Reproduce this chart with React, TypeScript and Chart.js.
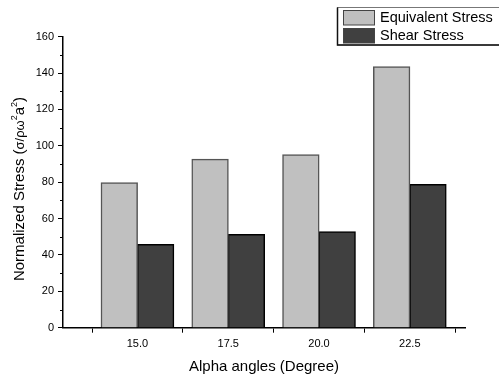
import React, { useEffect, useRef } from "react";
import { Chart, registerables } from "chart.js";

Chart.register(...registerables);

const angles = [15.0, 17.5, 20.0, 22.5];
const equivalentStress = [79.7, 92.6, 95.1, 143.5];
const shearStress = [45.8, 51.3, 52.8, 78.8];
const yTicks = [0, 20, 40, 60, 80, 100, 120, 140, 160];
const yMinorTicks = [10, 30, 50, 70, 90, 110, 130, 150];
const seriesLabels = ["Equivalent Stress", "Shear Stress"];
const xTitle = "Alpha angles (Degree)";
// y title as text runs: [text, font size, superscript]
const yTitleRuns: [string, number, boolean][] = [
  ["Normalized Stress (", 15, false],
  ["σ/ρω", 13, false],
  ["2", 9, true],
  ["a", 15, false],
  ["2", 9, true],
  [")", 15, false],
];

const FONT = "'Liberation Sans', Arial, sans-serif";

const minorTicksPlugin = {
  id: "minorTicks",
  afterDraw(chart: any) {
    const ctx = chart.ctx;
    const y = chart.scales.y;
    const left = chart.chartArea.left;
    ctx.save();
    ctx.strokeStyle = "#000";
    ctx.lineWidth = 1;
    yMinorTicks.forEach((v) => {
      const py = Math.round(y.getPixelForValue(v)) + 0.5;
      ctx.beginPath();
      ctx.moveTo(left - 3, py);
      ctx.lineTo(left, py);
      ctx.stroke();
    });
    ctx.restore();
  },
};

const yTitlePlugin = {
  id: "yTitle",
  afterDraw(chart: any) {
    const ctx = chart.ctx;
    ctx.save();
    ctx.translate(18.5, 189);
    ctx.rotate(-Math.PI / 2);
    ctx.fillStyle = "#000";
    ctx.textBaseline = "alphabetic";
    ctx.textAlign = "left";
    let total = 0;
    const widths = yTitleRuns.map(([t, s]) => {
      ctx.font = `${s}px ${FONT}`;
      const w = ctx.measureText(t).width;
      total += w;
      return w;
    });
    let x = -total / 2;
    const base = 5.3;
    yTitleRuns.forEach(([t, s, sup], i) => {
      ctx.font = `${s}px ${FONT}`;
      ctx.fillText(t, x, sup ? base - 6.5 : base);
      x += widths[i];
    });
    ctx.restore();
  },
};

const boxLegendPlugin = {
  id: "boxLegend",
  afterDraw(chart: any) {
    const ctx = chart.ctx;
    const x0 = 337.5;
    const y0 = 7.5;
    const x1 = 505;
    const y1 = 45;
    ctx.save();
    ctx.fillStyle = "#fff";
    ctx.fillRect(x0, y0, x1 - x0, y1 - y0);
    ctx.strokeStyle = "#777";
    ctx.lineWidth = 1;
    ctx.strokeRect(x0, y0, x1 - x0, y1 - y0);
    ctx.strokeStyle = "#111";
    ctx.lineWidth = 1.5;
    ctx.beginPath();
    ctx.moveTo(x0, y0);
    ctx.lineTo(x0, y1);
    ctx.lineTo(x1, y1);
    ctx.stroke();
    const rows = [17.5, 35.5];
    chart.data.datasets.forEach((ds: any, i: number) => {
      const cy = rows[i];
      ctx.fillStyle = ds.backgroundColor;
      ctx.fillRect(343, cy - 7.5, 32, 15);
      ctx.strokeStyle = "#444";
      ctx.lineWidth = 1;
      ctx.strokeRect(343.5, cy - 7, 31, 14.5);
      ctx.fillStyle = "#000";
      ctx.font = `14.5px ${FONT}`;
      ctx.textBaseline = "middle";
      ctx.textAlign = "left";
      ctx.fillText(ds.label, 380, cy + 0.5);
    });
    ctx.restore();
  },
};

export default function App() {
  const ref = useRef<HTMLCanvasElement>(null);

  useEffect(() => {
    if (!ref.current) return;
    const chart = new Chart(ref.current, {
      type: "bar",
      data: {
        datasets: [
          {
            label: seriesLabels[0],
            data: angles.map((a, i) => ({ x: a, y: equivalentStress[i] })),
            backgroundColor: "#c0c0c0",
            borderColor: "#555",
            borderWidth: 1.5,
            categoryPercentage: 0.8,
            barPercentage: 1.0,
            inflateAmount: 0.5,
          },
          {
            label: seriesLabels[1],
            data: angles.map((a, i) => ({ x: a, y: shearStress[i] })),
            backgroundColor: "#404040",
            borderColor: "#000",
            borderWidth: 1.5,
            categoryPercentage: 0.8,
            barPercentage: 1.0,
            inflateAmount: 0.5,
          },
        ],
      } as any,
      options: {
        animation: false,
        responsive: false,
        maintainAspectRatio: false,
        layout: { padding: { top: 36.7, right: 34, left: 0, bottom: 0 } },
        plugins: { legend: { display: false }, tooltip: { enabled: false } },
        scales: {
          x: {
            type: "linear",
            min: 12.95,
            max: 24.02,
            offset: false,
            afterBuildTicks: (s: any) => {
              s.ticks = angles.map((v) => ({ value: v }));
            },
            afterFit: (s: any) => {
              s.height = 49.3;
            },
            ticks: {
              callback: (v: any) => Number(v).toFixed(1),
              font: { family: FONT, size: 11 },
              color: "#000",
              padding: 5,
              maxRotation: 0,
              autoSkip: false,
            },
            grid: {
              drawOnChartArea: false,
              drawTicks: true,
              tickLength: 5,
              color: "#000",
            },
            border: { display: true, color: "#000", width: 1.5 },
            title: {
              display: true,
              text: xTitle,
              color: "#000",
              font: { family: FONT, size: 15 },
              padding: { top: 2, bottom: 1 },
            },
          },
          y: {
            min: 0,
            max: 160,
            afterBuildTicks: (s: any) => {
              s.ticks = yTicks.map((v) => ({ value: v }));
            },
            afterFit: (s: any) => {
              s.width = 63;
            },
            ticks: {
              font: { family: FONT, size: 11 },
              color: "#000",
              padding: 4,
            },
            grid: {
              drawOnChartArea: false,
              drawTicks: true,
              tickLength: 5,
              color: "#000",
            },
            border: { display: true, color: "#000", width: 1.5 },
            title: { display: false },
          },
        },
      } as any,
      plugins: [minorTicksPlugin, yTitlePlugin, boxLegendPlugin],
    });
    return () => chart.destroy();
  }, []);

  return (
    <div style={{ position: "absolute", left: 0, top: 0, width: 499, height: 377, background: "#fff" }}>
      <canvas ref={ref} width={499} height={377} style={{ display: "block", width: 499, height: 377 }} />
    </div>
  );
}
